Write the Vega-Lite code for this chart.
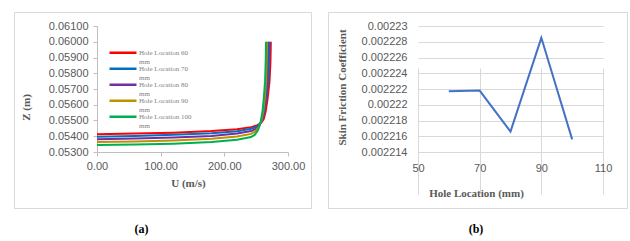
{
  "$schema": "https://vega.github.io/schema/vega-lite/v6.json",
  "padding": {"left": 13, "top": 11, "right": 0, "bottom": 0},
  "background": "white",
  "spacing": 15,
  "config": {
    "view": {"stroke": "#d9d9d9", "strokeWidth": 1},
    "axis": {"labelFont": "Liberation Sans", "labelFontSize": 11, "labelColor": "#595959", "titleFont": "Liberation Serif", "titleFontSize": 11, "titleFontWeight": "bold", "titleColor": "#595959", "labelFlush": false, "labelOverlap": false},
    "title": {"font": "Liberation Serif", "fontSize": 12, "fontWeight": "bold", "color": "#000000"}
  },
  "datasets": {
    "profiles": [
      {"loc": 60, "U": 0, "Z": 0.05412}, {"loc": 60, "U": 60, "Z": 0.05417}, {"loc": 60, "U": 120, "Z": 0.05423}, {"loc": 60, "U": 180, "Z": 0.05433}, {"loc": 60, "U": 220, "Z": 0.05445}, {"loc": 60, "U": 242, "Z": 0.05458}, {"loc": 60, "U": 252, "Z": 0.0547}, {"loc": 60, "U": 258, "Z": 0.05485}, {"loc": 60, "U": 262, "Z": 0.0551}, {"loc": 60, "U": 265, "Z": 0.0556}, {"loc": 60, "U": 268, "Z": 0.0564}, {"loc": 60, "U": 271, "Z": 0.0575}, {"loc": 60, "U": 272.5, "Z": 0.0588}, {"loc": 60, "U": 273, "Z": 0.06},
      {"loc": 70, "U": 0, "Z": 0.05397}, {"loc": 70, "U": 60, "Z": 0.05402}, {"loc": 70, "U": 120, "Z": 0.05409}, {"loc": 70, "U": 180, "Z": 0.05419}, {"loc": 70, "U": 220, "Z": 0.05432}, {"loc": 70, "U": 242, "Z": 0.05447}, {"loc": 70, "U": 250, "Z": 0.0546}, {"loc": 70, "U": 256, "Z": 0.05478}, {"loc": 70, "U": 260, "Z": 0.05505}, {"loc": 70, "U": 263, "Z": 0.05555}, {"loc": 70, "U": 266, "Z": 0.0564}, {"loc": 70, "U": 269, "Z": 0.0575}, {"loc": 70, "U": 270.5, "Z": 0.0588}, {"loc": 70, "U": 271, "Z": 0.06},
      {"loc": 80, "U": 0, "Z": 0.05381}, {"loc": 80, "U": 60, "Z": 0.05386}, {"loc": 80, "U": 120, "Z": 0.05392}, {"loc": 80, "U": 180, "Z": 0.05402}, {"loc": 80, "U": 220, "Z": 0.05417}, {"loc": 80, "U": 242, "Z": 0.05433}, {"loc": 80, "U": 250, "Z": 0.05448}, {"loc": 80, "U": 255, "Z": 0.05468}, {"loc": 80, "U": 259, "Z": 0.055}, {"loc": 80, "U": 262, "Z": 0.05555}, {"loc": 80, "U": 265, "Z": 0.0564}, {"loc": 80, "U": 267, "Z": 0.0575}, {"loc": 80, "U": 268.5, "Z": 0.0588}, {"loc": 80, "U": 269, "Z": 0.06},
      {"loc": 90, "U": 0, "Z": 0.05363}, {"loc": 90, "U": 60, "Z": 0.05367}, {"loc": 90, "U": 120, "Z": 0.05373}, {"loc": 90, "U": 180, "Z": 0.05384}, {"loc": 90, "U": 220, "Z": 0.05398}, {"loc": 90, "U": 242, "Z": 0.05415}, {"loc": 90, "U": 249, "Z": 0.05432}, {"loc": 90, "U": 254, "Z": 0.05458}, {"loc": 90, "U": 258, "Z": 0.05495}, {"loc": 90, "U": 261, "Z": 0.05555}, {"loc": 90, "U": 263.5, "Z": 0.0564}, {"loc": 90, "U": 265.5, "Z": 0.0575}, {"loc": 90, "U": 266.5, "Z": 0.0588}, {"loc": 90, "U": 267, "Z": 0.06},
      {"loc": 100, "U": 0, "Z": 0.05344}, {"loc": 100, "U": 60, "Z": 0.05348}, {"loc": 100, "U": 120, "Z": 0.05353}, {"loc": 100, "U": 180, "Z": 0.05363}, {"loc": 100, "U": 220, "Z": 0.05378}, {"loc": 100, "U": 242, "Z": 0.05395}, {"loc": 100, "U": 248, "Z": 0.0541}, {"loc": 100, "U": 253, "Z": 0.0544}, {"loc": 100, "U": 257, "Z": 0.0549}, {"loc": 100, "U": 260, "Z": 0.0556}, {"loc": 100, "U": 262, "Z": 0.0564}, {"loc": 100, "U": 264, "Z": 0.0575}, {"loc": 100, "U": 265, "Z": 0.0588}, {"loc": 100, "U": 265.5, "Z": 0.06}
    ],
    "friction": [
      {"loc": 60, "cf": 0.0022217},
      {"loc": 70, "cf": 0.0022218},
      {"loc": 80, "cf": 0.0022166},
      {"loc": 90, "cf": 0.0022285},
      {"loc": 100, "cf": 0.0022156}
    ]
  },
  "hconcat": [
    {
      "width": 297,
      "height": 196,
      "data": {"name": "profiles"},
      "title": {"text": "(a)", "orient": "bottom", "offset": 21, "dx": -21, "baseline": "middle"},
      "mark": {"type": "line", "strokeWidth": 2},
      "encoding": {
        "x": {
          "field": "U", "type": "quantitative",
          "scale": {"domain": [0, 300], "range": [83, 274], "nice": false, "zero": false},
          "axis": {"title": "U (m/s)", "values": [0, 100, 200, 300], "format": ".2f", "offset": -56, "grid": false, "domainColor": "#bfbfbf", "tickColor": "#bfbfbf", "tickSize": 4, "labelPadding": 4, "titleX": 174, "titleY": 31, "titleBaseline": "middle"}
        },
        "y": {
          "field": "Z", "type": "quantitative",
          "scale": {"domain": [0.053, 0.061], "range": [140, 14], "nice": false, "zero": false},
          "axis": {"title": "Z (m)", "values": [0.053, 0.054, 0.055, 0.056, 0.057, 0.058, 0.059, 0.06, 0.061], "format": ".5f", "offset": -83, "grid": false, "domainColor": "#bfbfbf", "tickColor": "#bfbfbf", "tickSize": 4, "labelPadding": 5, "titleX": -71, "titleY": 95, "titleBaseline": "middle"}
        },
        "color": {
          "field": "loc", "type": "nominal",
          "scale": {"domain": [60, 70, 80, 90, 100], "range": ["#ff0000", "#0070c0", "#7030a0", "#bf9000", "#00b050"]},
          "legend": {"orient": "none", "legendX": 103, "legendY": 37, "title": null, "symbolType": "M-3,-0.5H3", "symbolSize": 81, "symbolStrokeWidth": 2.5, "symbolFillColor": "transparent", "labelExpr": "['Hole Location ' + datum.label, 'mm']", "labelFont": "Liberation Serif", "labelFontSize": 7, "labelLineHeight": 8, "labelColor": "#7f7f7f", "labelBaseline": "alphabetic", "rowPadding": -2.5, "labelOffset": 10}
        },
        "order": {"field": "Z", "type": "quantitative"}
      }
    },
    {
      "width": 299,
      "height": 196,
      "data": {"name": "friction"},
      "title": {"text": "(b)", "orient": "bottom", "offset": 21, "dx": -1.5, "baseline": "middle"},
      "mark": {"type": "line", "strokeWidth": 2, "color": "#4472c4"},
      "encoding": {
        "x": {
          "field": "loc", "type": "quantitative",
          "scale": {"domain": [50, 110], "range": [90, 275], "nice": false, "zero": false},
          "axis": {"title": "Hole Location (mm)", "values": [50, 70, 90, 110], "offset": -56, "grid": true, "gridColor": "#d9d9d9", "ticks": false, "domain": false, "labelPadding": 10, "titleX": 148, "titleY": 41, "titleBaseline": "middle"}
        },
        "y": {
          "field": "cf", "type": "quantitative",
          "scale": {"domain": [0.002214, 0.00223], "range": [140, 14], "nice": false, "zero": false},
          "axis": {"title": "Skin Friction Coefficient", "values": [0.002214, 0.002216, 0.002218, 0.00222, 0.002222, 0.002224, 0.002226, 0.002228, 0.00223], "labelExpr": "format(datum.value, '.6~f')", "offset": -90, "grid": true, "gridColor": "#d9d9d9", "ticks": false, "domain": false, "labelPadding": 11, "titleX": -76, "titleY": 75, "titleBaseline": "middle"}
        }
      }
    }
  ]
}
